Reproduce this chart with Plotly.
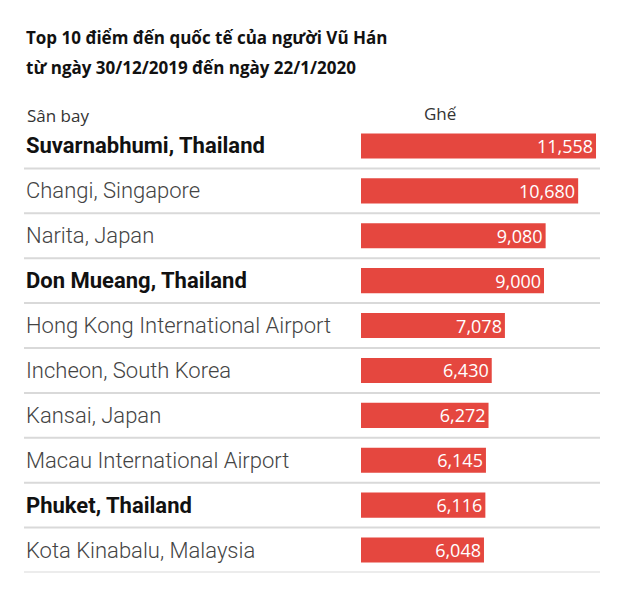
import plotly.graph_objects as go

airports = [
    "Suvarnabhumi, Thailand",
    "Changi, Singapore",
    "Narita, Japan",
    "Don Mueang, Thailand",
    "Hong Kong International Airport",
    "Incheon, South Korea",
    "Kansai, Japan",
    "Macau International Airport",
    "Phuket, Thailand",
    "Kota Kinabalu, Malaysia",
]
seats = [11558, 10680, 9080, 9000, 7078, 6430, 6272, 6145, 6116, 6048]
bold_rows = ["Suvarnabhumi, Thailand", "Don Mueang, Thailand", "Phuket, Thailand"]

W, H = 630, 599
OFF = 8  # page body margin
row_top, row_bottom = 123.5 - OFF, 572.5 - OFF


def px_x(v):
    return (v - OFF) / W


def px_y(v):
    return 1 - (v - OFF) / H


fig = go.Figure(
    go.Bar(
        x=seats,
        y=airports,
        orientation="h",
        marker=dict(color="#e5473f", line=dict(width=0)),
        texttemplate="%{x:,}",
        textposition="inside",
        insidetextanchor="end",
        constraintext="none",
        textfont=dict(family="Open Sans", size=18, color="white"),
        hoverinfo="skip",
        width=0.56,
    )
)

# row labels on the left
for name in airports:
    bold = name in bold_rows
    fig.add_annotation(
        x=px_x(24), xref="paper", y=name, yref="y",
        text=f"<b>{name}</b>" if bold else name,
        showarrow=False, xanchor="left", yanchor="middle",
        font=dict(family="Roboto", size=22,
                  color="#111111" if bold else "#444444",
                  weight=None if bold else 300),
    )

# separator lines below each row
for i in range(len(airports)):
    fig.add_shape(
        type="line", xref="paper", yref="y",
        x0=px_x(24), x1=px_x(600), y0=i + 0.5, y1=i + 0.5,
        line=dict(color="#d9d9d9", width=2), layer="below",
    )

# title and column headers
title_lines = ["Top 10 điểm đến quốc tế của người Vũ Hán",
               "từ ngày 30/12/2019 đến ngày 22/1/2020"]
for k, line in enumerate(title_lines):
    fig.add_annotation(
        x=px_x(24), y=px_y(37 + 30 * k), xref="paper", yref="paper",
        text=f"<b>{line}</b>", showarrow=False,
        xanchor="left", yanchor="middle",
        font=dict(family="Open Sans", size=17, color="#111111"),
    )
fig.add_annotation(
    x=px_x(25), y=px_y(116), xref="paper", yref="paper",
    text="Sân bay", showarrow=False, xanchor="left", yanchor="middle",
    font=dict(family="Open Sans", size=17, color="#333333"),
)
fig.add_annotation(
    x=px_x(422), y=px_y(114), xref="paper", yref="paper",
    text="Ghế", showarrow=False, xanchor="left", yanchor="middle",
    font=dict(family="Open Sans", size=17, color="#333333"),
)

fig.update_xaxes(
    domain=[px_x(361), px_x(600)], range=[0, 11754],
    showgrid=False, showticklabels=False, zeroline=False,
)
fig.update_yaxes(
    domain=[1 - row_bottom / H, 1 - row_top / H],
    range=[len(airports) - 0.5, -0.5],
    showgrid=False, showticklabels=False, zeroline=False,
)
fig.update_layout(
    width=W, height=H,
    margin=dict(l=0, r=0, t=0, b=0),
    paper_bgcolor="white", plot_bgcolor="white",
    showlegend=False,
)

fig.write_html("out.html")
